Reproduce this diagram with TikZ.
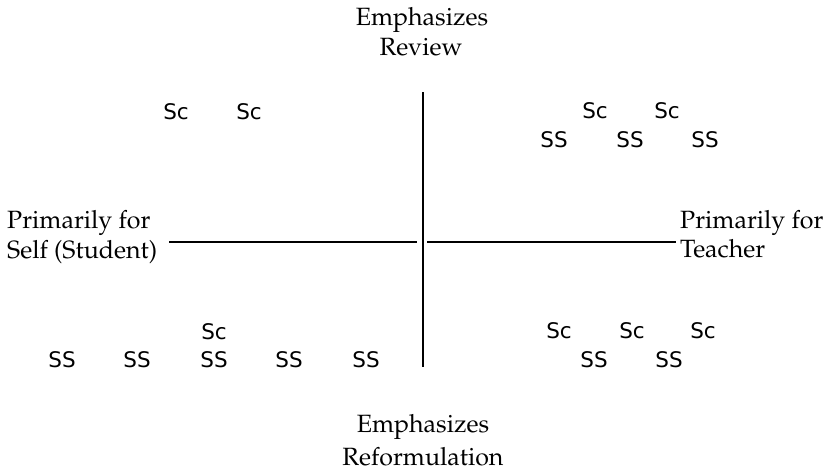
\documentclass[tikz,border=0pt]{standalone}
\usepackage[T1]{fontenc}
\usepackage{fontspec}
\newfontfamily\ssfont{DejaVu Sans}
\newcommand\palfont{\usefont{T1}{ppl}{m}{n}}
\tikzset{
  lbl/.style={inner sep=0pt, anchor=base, font=\palfont\fontsize{25}{30}\selectfont},
  lblw/.style={lbl, anchor=base west},
  mk/.style={inner sep=0pt, anchor=base, font=\ssfont\fontsize{21.5}{26}\selectfont},
  axis/.style={draw=black, line width=1.3pt}
}
\begin{document}
\begin{tikzpicture}[x=1pt,y=-1pt]
\useasboundingbox (0,0) rectangle (837,471);
% axis labels
\node[lbl] (t1) at (422,25) {Emphasizes};
\node[lbl] (t2) at (421,55) {Review};
\node[lbl] (b1) at (423,432) {Emphasizes};
\node[lbl] (b2) at (423,465) {Reformulation};
\node[lblw] (l1) at (7,228) {Primarily for};
\node[lblw] (l2) at (7,258) {Self (Student)};
\node[lblw] (r1) at (680,228) {Primarily for};
\node[lblw] (r2) at (680,257) {Teacher};
% axes
\coordinate (vtop) at (423,92);
\coordinate (vbot) at (423,367);
\coordinate (lstart) at (169,242);
\coordinate (lend) at (417,242);
\coordinate (rstart) at (427,242);
\coordinate (rend) at (676,242);
\draw[axis] (vtop) -- (vbot);
\draw[axis] (lstart) -- (lend);
\draw[axis] (rstart) -- (rend);
% top-left
\node[mk] (tl1) at (176,119) {Sc};
\node[mk] (tl2) at (249,119) {Sc};
% top-right
\node[mk] (tr1) at (595,118) {Sc};
\node[mk] (tr2) at (667,118) {Sc};
\node[mk] (tr3) at (554,147) {SS};
\node[mk] (tr4) at (630,147) {SS};
\node[mk] (tr5) at (705,147) {SS};
% bottom-left
\node[mk] (bl0) at (214,339) {Sc};
\node[mk] (bl1) at (62,367) {SS};
\node[mk] (bl2) at (137,367) {SS};
\node[mk] (bl3) at (214,367) {SS};
\node[mk] (bl4) at (289,367) {SS};
\node[mk] (bl5) at (366,367) {SS};
% bottom-right
\node[mk] (br1) at (559,338) {Sc};
\node[mk] (br2) at (632,338) {Sc};
\node[mk] (br3) at (703,338) {Sc};
\node[mk] (br4) at (594,367) {SS};
\node[mk] (br5) at (669,367) {SS};
\end{tikzpicture}
\end{document}
